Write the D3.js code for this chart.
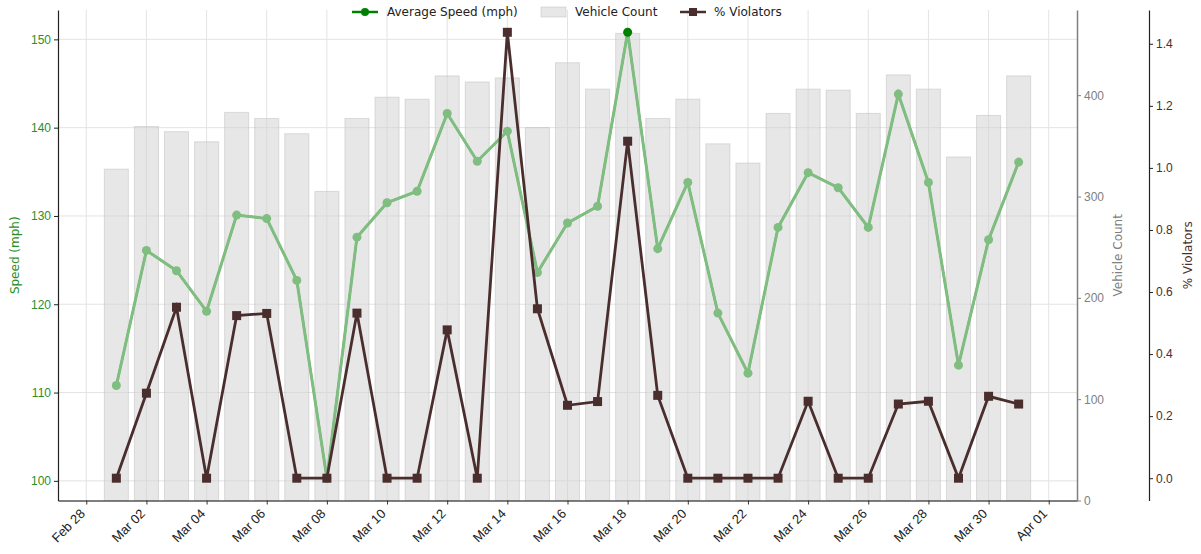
<!DOCTYPE html>
<html>
<head>
<meta charset="utf-8">
<script src="https://cdn.jsdelivr.net/npm/d3@7"></script>
<style>
  body { margin: 0; background: #fff; }
  svg { font-family: "DejaVu Sans", sans-serif; }
</style>
</head>
<body>
<svg id="chart" width="1201" height="554"></svg>
<script>
// daily values, Mar 01 .. Mar 31
const days = d3.range(1, 32).map(d => `2023-03-${String(d).padStart(2, "0")}`);
const avgSpeed = [110.8, 126.1, 123.8, 119.2, 130.1, 129.7, 122.7, 100.3, 127.6, 131.5,
                  132.8, 141.6, 136.2, 139.6, 123.6, 129.2, 131.1, 150.8, 126.3, 133.8,
                  119.0, 112.2, 128.7, 134.9, 133.2, 128.7, 143.8, 133.8, 113.1, 127.3, 136.1];
const vehicleCount = [327, 369, 364, 354, 383, 377, 362, 305, 377, 398,
                      396, 419, 413, 417, 368, 432, 406, 461, 377, 396,
                      352, 333, 382, 406, 405, 382, 420, 406, 339, 380, 419];
const pctViolators = [0, 0.274, 0.551, 0, 0.524, 0.531, 0, 0, 0.532, 0,
                      0, 0.478, 0, 1.437, 0.546, 0.235, 0.247, 1.086, 0.267, 0,
                      0, 0, 0, 0.248, 0, 0, 0.239, 0.248, 0, 0.264, 0.239];
const xTicks = ["2023-02-28", "2023-03-02", "2023-03-04", "2023-03-06", "2023-03-08", "2023-03-10",
                "2023-03-12", "2023-03-14", "2023-03-16", "2023-03-18", "2023-03-20", "2023-03-22",
                "2023-03-24", "2023-03-26", "2023-03-28", "2023-03-30", "2023-04-01"];
const speedTicks = [100, 110, 120, 130, 140, 150];
const countTicks = [0, 100, 200, 300, 400];
const violTicks = [0, 0.2, 0.4, 0.6, 0.8, 1.0, 1.2, 1.4];

const parse = d3.utcParse("%Y-%m-%d");
const data = days.map((d, i) => ({
  date: parse(d), speed: avgSpeed[i], count: vehicleCount[i], viol: pctViolators[i]
}));

const svg = d3.select("#chart");
const plotLeft = 58, plotRight = 1077, plotTop = 10, plotBottom = 500.5;
const DAY = 864e5;

const GREEN = "#008000", LIGHT_GREEN = "#80bd80", BROWN = "#4a2d2d", GREY = "#808080";

// padding like matplotlib: 5% of data span
function padded(lo, hi) {
  const m = (hi - lo) * 0.05;
  return [lo - m, hi + m];
}

const x0 = +data[0].date - 0.4 * DAY, x1 = +data[data.length - 1].date + 0.4 * DAY;
const xScale = d3.scaleUtc()
  .domain(padded(x0, x1).map(t => new Date(t)))
  .range([plotLeft, plotRight]);

const ySpeed = d3.scaleLinear()
  .domain(padded(d3.min(avgSpeed), d3.max(avgSpeed)))
  .range([plotBottom, plotTop]);

const yCount = d3.scaleLinear()
  .domain([0, d3.max(vehicleCount) * 1.05])
  .range([plotBottom, plotTop]);

const yViol = d3.scaleLinear()
  .domain(padded(d3.min(pctViolators), d3.max(pctViolators)))
  .range([plotBottom, plotTop]);

// grid
const grid = svg.append("g");
grid.selectAll(".vgrid").data(xTicks.map(parse)).join("line")
  .attr("x1", d => xScale(d)).attr("x2", d => xScale(d))
  .attr("y1", plotTop).attr("y2", plotBottom)
  .attr("stroke", "#e3e3e3").attr("stroke-width", 1);
grid.selectAll(".hgrid").data(speedTicks).join("line")
  .attr("x1", plotLeft).attr("x2", plotRight)
  .attr("y1", d => ySpeed(d)).attr("y2", d => ySpeed(d))
  .attr("stroke", "#e3e3e3").attr("stroke-width", 1);

// bars
const barW = xScale(new Date(+data[0].date + 0.8 * DAY)) - xScale(data[0].date);
svg.append("g").selectAll("rect").data(data).join("rect")
  .attr("x", d => xScale(d.date) - barW / 2)
  .attr("width", barW)
  .attr("y", d => yCount(d.count))
  .attr("height", d => plotBottom - yCount(d.count))
  .attr("fill", "#d3d3d3").attr("fill-opacity", 0.55)
  .attr("stroke", "#a9a9a9").attr("stroke-opacity", 0.35);

// speed line
const speedLine = d3.line().x(d => xScale(d.date)).y(d => ySpeed(d.speed));
svg.append("path").datum(data)
  .attr("d", speedLine).attr("fill", "none")
  .attr("stroke", GREEN).attr("stroke-width", 2);
svg.append("path").datum(data)
  .attr("d", speedLine).attr("fill", "none")
  .attr("stroke", LIGHT_GREEN).attr("stroke-width", 3);
svg.append("g").selectAll("circle").data(data).join("circle")
  .attr("cx", d => xScale(d.date)).attr("cy", d => ySpeed(d.speed))
  .attr("r", 4.5)
  .attr("fill", d => d.speed > 150 ? GREEN : LIGHT_GREEN);

// violators line
const violLine = d3.line().x(d => xScale(d.date)).y(d => yViol(d.viol));
svg.append("path").datum(data)
  .attr("d", violLine).attr("fill", "none")
  .attr("stroke", BROWN).attr("stroke-width", 2.8).attr("stroke-linejoin", "miter");
svg.append("g").selectAll("rect").data(data).join("rect")
  .attr("x", d => xScale(d.date) - 4.5).attr("y", d => yViol(d.viol) - 4.5)
  .attr("width", 9).attr("height", 9)
  .attr("fill", BROWN);

// axes
const xAxis = svg.append("g")
  .attr("transform", `translate(0,${plotBottom})`)
  .call(d3.axisBottom(xScale).tickValues(xTicks.map(parse))
    .tickFormat(d3.utcFormat("%b %d")).tickSize(4).tickSizeOuter(0));
xAxis.select(".domain").attr("stroke", "#555").attr("stroke-width", 1.5);
xAxis.selectAll(".tick line").attr("stroke", "#333");
xAxis.selectAll(".tick text")
  .attr("font-size", 13).attr("fill", "#222")
  .attr("text-anchor", "end")
  .attr("dy", null).attr("y", 0)
  .attr("transform", "translate(-1,14) rotate(-45)");

const lAxis = svg.append("g")
  .attr("transform", `translate(${plotLeft},0)`)
  .call(d3.axisLeft(ySpeed).tickValues(speedTicks).tickSize(4).tickSizeOuter(0));
lAxis.select(".domain").attr("stroke", "#222").attr("stroke-width", 1.2);
lAxis.selectAll(".tick line").attr("stroke", "#222");
lAxis.selectAll(".tick text").attr("font-size", 12).attr("fill", "#2a8f2a");

const cAxis = svg.append("g")
  .attr("transform", `translate(${plotRight},0)`)
  .call(d3.axisRight(yCount).tickValues(countTicks).tickSize(4).tickSizeOuter(0));
cAxis.select(".domain").attr("stroke", GREY).attr("stroke-width", 1.5);
cAxis.selectAll(".tick line").attr("stroke", GREY);
cAxis.selectAll(".tick text").attr("font-size", 12).attr("fill", GREY);

const vAxis = svg.append("g")
  .attr("transform", "translate(1149,0)")
  .call(d3.axisRight(yViol).tickValues(violTicks).tickFormat(d3.format(".1f"))
    .tickSize(4).tickSizeOuter(0));
vAxis.select(".domain").attr("stroke", "#222").attr("stroke-width", 1.2);
vAxis.selectAll(".tick line").attr("stroke", "#222");
vAxis.selectAll(".tick text").attr("font-size", 12).attr("fill", BROWN);

// axis titles
const midY = (plotTop + plotBottom) / 2;
svg.append("text")
  .attr("transform", `translate(19,${midY}) rotate(-90)`)
  .attr("text-anchor", "middle").attr("font-size", 12).attr("fill", "#2a8f2a")
  .text("Speed (mph)");
svg.append("text")
  .attr("transform", `translate(1122,${midY}) rotate(-90)`)
  .attr("text-anchor", "middle").attr("font-size", 12).attr("fill", GREY)
  .text("Vehicle Count");
svg.append("text")
  .attr("transform", `translate(1192,${midY}) rotate(-90)`)
  .attr("text-anchor", "middle").attr("font-size", 12).attr("fill", BROWN)
  .text("% Violators");

// legend
const legend = svg.append("g").attr("transform", "translate(352,12)");
const lg1 = legend.append("g");
lg1.append("line").attr("x1", 0).attr("x2", 26).attr("stroke", GREEN).attr("stroke-width", 2.5);
lg1.append("circle").attr("cx", 13).attr("r", 4).attr("fill", GREEN);
lg1.append("text").attr("x", 35).attr("dy", "0.35em").attr("font-size", 12).attr("fill", "#222")
  .text("Average Speed (mph)");
const lg2 = legend.append("g").attr("transform", "translate(189,0)");
lg2.append("rect").attr("x", 0).attr("y", -5).attr("width", 25).attr("height", 10)
  .attr("fill", "#d3d3d3").attr("fill-opacity", 0.55)
  .attr("stroke", "#a9a9a9").attr("stroke-opacity", 0.35);
lg2.append("text").attr("x", 34).attr("dy", "0.35em").attr("font-size", 12).attr("fill", "#222")
  .text("Vehicle Count");
const lg3 = legend.append("g").attr("transform", "translate(328,0)");
lg3.append("line").attr("x1", 0).attr("x2", 26).attr("stroke", BROWN).attr("stroke-width", 2.5);
lg3.append("rect").attr("x", 9).attr("y", -4).attr("width", 8).attr("height", 8).attr("fill", BROWN);
lg3.append("text").attr("x", 34).attr("dy", "0.35em").attr("font-size", 12).attr("fill", "#222")
  .text("% Violators");
</script>
</body>
</html>
